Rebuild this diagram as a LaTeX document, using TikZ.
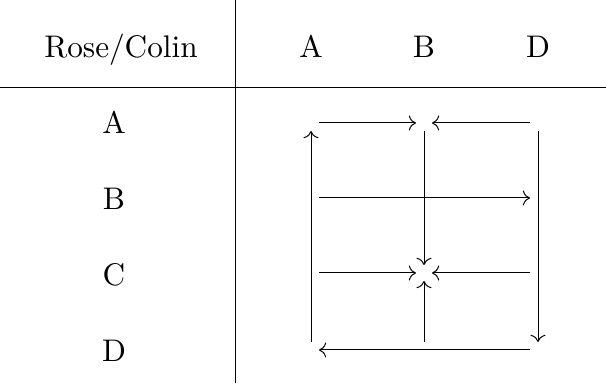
\documentclass[tikz,border=0pt]{standalone}
\usetikzlibrary{arrows.meta}
\tikzset{cell/.style={circle,minimum size=4.8pt,inner sep=0pt},
  lab/.style={anchor=base,inner sep=0pt},
  move/.style={->}}

\begin{document}
\begin{tikzpicture}[x=0.32pt,y=-0.32pt,line width=0.32pt]
  \path[use as bounding box] (0,0) rectangle (606,385);
  % table rules
  \draw (235,0) -- (235,383);
  \draw (0,88) -- (606,88);
  \node[lab] (rc) at (121,58) {Rose/Colin};
  \foreach \x/\c in {311/A,424/B,538/D}{
    \node[lab] (col\c) at (\x,58) {\c};
  }
  \foreach \y/\r/\b in {123/A/134,198/B/210,273/C/286,350/D/362}{
    \node[lab] (row\r) at (114,\b) {\r};
    \foreach \x/\c in {311/A,424/B,538/D}
      \node[cell] (\r\c) at (\x,\y) {};
  }
  % best responses
  \draw[move] (AA) -- (AB);
  \draw[move] (AD) -- (AB);
  \draw[move] (BA) -- (BD);
  \draw[move] (CA) -- (CB);
  \draw[move] (CD) -- (CB);
  \draw[move] (DD) -- (DA);
  \draw[move] (DA) -- (AA);
  \draw[move] (AB) -- (CB);
  \draw[move] (DB) -- (CB);
  \draw[move] (AD) -- (DD);
\end{tikzpicture}
\end{document}
